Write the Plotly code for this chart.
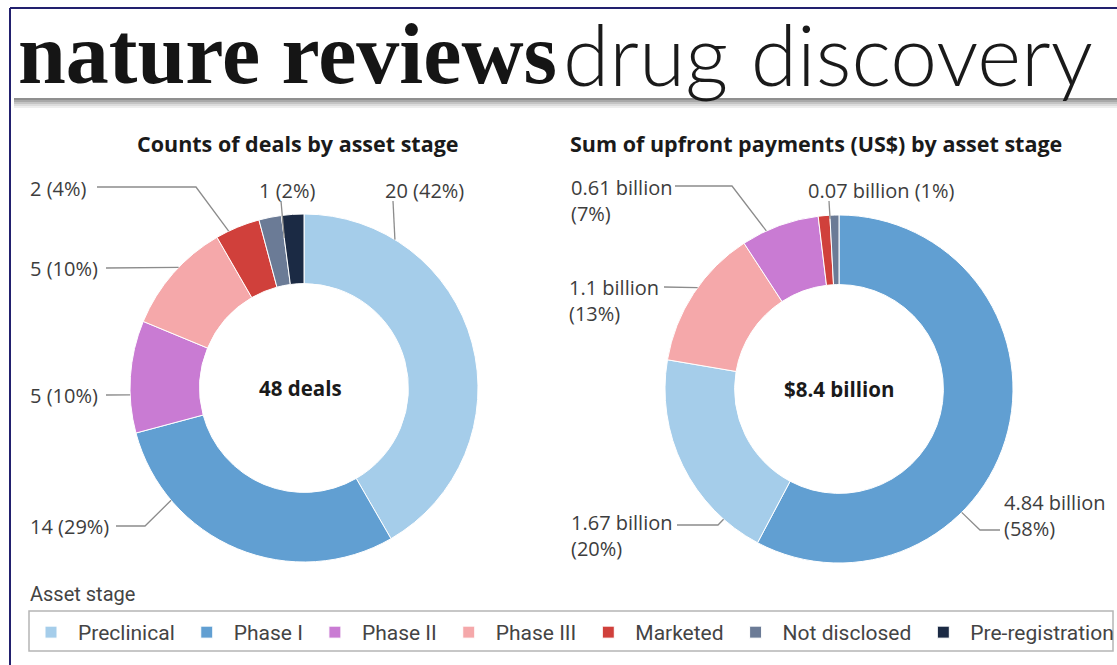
import math
import plotly.graph_objects as go

W, H = 1117, 665

# ---------------- data ----------------
stages = ["Preclinical", "Phase I", "Phase II", "Phase III", "Marketed",
          "Not disclosed", "Pre-registration"]
stage_colors = ["#a5cdea", "#619fd2", "#c97bd3", "#f5a8aa", "#d0403b",
                "#6b7b96", "#1b2a44"]

deal_stages = ["Preclinical", "Phase I", "Phase II", "Phase III", "Marketed",
               "Not disclosed", "Pre-registration"]
deal_counts = [20, 14, 5, 5, 2, 1, 1]

pay_stages = ["Phase I", "Preclinical", "Phase III", "Phase II", "Marketed",
              "Not disclosed"]
pay_values = [4.84, 1.67, 1.1, 0.61, 0.09, 0.07]   # US$ billion

color_of = dict(zip(stages, stage_colors))

# ---------------- geometry (pixels) ----------------
R = 174
LC = (304, 388)
RC = (839, 389)
HOLE = 0.6


def px(x):
    return x / W


def py(y):
    return 1 - y / H


def domain(c):
    cx, cy = c
    return dict(x=[px(cx - R), px(cx + R)], y=[py(cy + R), py(cy - R)])


def ring_point(values, idx, frac, rfrac, c):
    tot = sum(values)
    ang = 2 * math.pi * (sum(values[:idx]) + frac * values[idx]) / tot
    r = R * rfrac
    return (c[0] + r * math.sin(ang), c[1] - r * math.cos(ang))


fig = go.Figure()
line_white = dict(color="white", width=1)

fig.add_trace(go.Pie(
    labels=deal_stages, values=deal_counts, hole=HOLE, sort=False,
    direction="clockwise", rotation=0, textinfo="none",
    marker=dict(colors=[color_of[s] for s in deal_stages], line=line_white),
    domain=domain(LC), showlegend=True, hoverinfo="label+value+percent"))

fig.add_trace(go.Pie(
    labels=pay_stages, values=pay_values, hole=HOLE, sort=False,
    direction="clockwise", rotation=0, textinfo="none",
    marker=dict(colors=[color_of[s] for s in pay_stages], line=line_white),
    domain=domain(RC), showlegend=True, hoverinfo="label+value+percent"))

LABEL_FONT = dict(family="Open Sans, Roboto, sans-serif", size=20, color="#3d3d3d")
TITLE_FONT = dict(family="Open Sans, Roboto, sans-serif", size=21.5, color="#1a1a1a", weight=700)
CENTER_FONT = dict(family="Open Sans, Roboto, sans-serif", size=20.5, color="#1a1a1a", weight=700)
LEGEND_FONT = dict(family="Roboto, sans-serif", size=21, color="#444444")
LEAD = dict(color="#8c8c8c", width=1.3)

annotations = []
shapes = []

deal_total = sum(deal_counts)
pay_total = sum(pay_values)


def deal_text(i):
    return f"{deal_counts[i]} ({round(100 * deal_counts[i] / deal_total)}%)"


def pay_text(i, br=True):
    sep = "<br>" if br else " "
    return f"{pay_values[i]:g} billion{sep}({round(100 * pay_values[i] / pay_total)}%)"


# (text, text_x, text_y, leader points, slice idx, frac in slice, radius frac)
left_labels = [
    (deal_text(0), 383, 190, [(393, 201)], 0, 0.21, 1.0),
    (deal_text(5), 257, 190, [(281, 201)], 5, 1.0, 0.87),
    (deal_text(4), 28, 188, [(97, 187), (196, 187)], 4, 0.29, 1.0),
    (deal_text(3), 28, 268, [(106, 268)], 3, 0.57, 1.0),
    (deal_text(2), 28, 395, [(106, 395)], 2, 0.34, 1.0),
    (deal_text(1), 28, 526, [(116, 526), (145, 526)], 1, 0.76, 1.0),
]
right_labels = [
    (pay_text(3), 569, 200, [(675, 186), (732, 186)], 3, 0.32, 1.0),
    (pay_text(5, br=False), 806, 190, [(829, 201)], 5, 0.0, 0.98),
    (pay_text(2), 567, 300, [(664, 287)], 2, 0.55, 1.0),
    (pay_text(1), 569, 535, [(677, 525), (718, 525)], 1, 0.19, 1.0),
    (pay_text(0), 1002, 515, [(1000, 530), (980, 530)], 0, 0.65, 1.0),
]


def add_labels(specs, values, c):
    for text, tx, ty, pts, idx, frac, rf in specs:
        annotations.append(dict(
            text=text, x=px(tx), y=py(ty), xref="paper", yref="paper",
            xanchor="left", yanchor="middle", align="left", showarrow=False,
            font=LABEL_FONT))
        end = ring_point(values, idx, frac, rf, c)
        allp = pts + [end]
        path = "M " + " L ".join(f"{px(a):.5f},{py(b):.5f}" for a, b in allp)
        shapes.append(dict(type="path", path=path, xref="paper", yref="paper",
                           line=LEAD))


add_labels(left_labels, deal_counts, LC)
add_labels(right_labels, pay_values, RC)


def centered(text, x, y, font):
    return dict(text=text, x=px(x), y=py(y), xref="paper", yref="paper",
                xanchor="center", yanchor="middle", showarrow=False, font=font)


# centre texts
annotations.append(centered(f"{deal_total} deals", LC[0] - 4, LC[1], CENTER_FONT))
annotations.append(centered(f"${pay_total:.1f} billion", RC[0], RC[1], CENTER_FONT))

# chart titles
annotations.append(centered("Counts of deals by asset stage", 297, 143, TITLE_FONT))
annotations.append(centered("Sum of upfront payments (US$) by asset stage", 816, 143, TITLE_FONT))

# legend title
annotations.append(dict(text="Asset stage", x=px(28), y=py(594), xref="paper",
                        yref="paper", xanchor="left", yanchor="middle",
                        showarrow=False,
                        font=dict(family="Roboto, sans-serif", size=20, color="#444444")))

# header
annotations.append(dict(text="nature reviews", x=px(16), y=py(54), xref="paper",
                        yref="paper", xanchor="left", yanchor="middle",
                        showarrow=False,
                        font=dict(family="Liberation Serif, DejaVu Serif, serif",
                                  size=86, color="#151515", weight=700)))
annotations.append(dict(text="drug discovery", x=px(561), y=py(53.5), xref="paper",
                        yref="paper", xanchor="left", yanchor="middle",
                        showarrow=False,
                        font=dict(family="Lato, Roboto, sans-serif",
                                  size=84, color="#1a1a1a", weight=300)))

# header frame + shadow
NAVY = "#22206e"
shapes.append(dict(type="line", xref="paper", yref="paper", x0=px(10), x1=1.0,
                   y0=py(8), y1=py(8), line=dict(color=NAVY, width=2)))
shapes.append(dict(type="line", xref="paper", yref="paper", x0=px(10), x1=px(10),
                   y0=py(8), y1=0, line=dict(color=NAVY, width=2)))
for (y0, y1, col) in [(98, 100, "#8f8f8f"), (100, 102, "#a9a9a9"),
                      (102, 104, "#c4c4c4"), (104, 106, "#dcdcdc"),
                      (106, 108, "#eeeeee")]:
    shapes.append(dict(type="rect", xref="paper", yref="paper", x0=px(14), x1=1.0,
                       y0=py(y1), y1=py(y0), line=dict(width=0), fillcolor=col,
                       layer="below"))

# legend frame
shapes.append(dict(type="rect", xref="paper", yref="paper", x0=px(29), x1=px(1113),
                   y0=py(651), y1=py(611), line=dict(color="#b5b5b5", width=1.5),
                   layer="below"))

fig.update_layout(
    width=W, height=H, margin=dict(l=0, r=0, t=0, b=0, autoexpand=False),
    paper_bgcolor="white", plot_bgcolor="white",
    annotations=annotations, shapes=shapes,
    legend=dict(orientation="h", x=px(24), y=py(612), xanchor="left",
                yanchor="top", borderwidth=0, bgcolor="rgba(0,0,0,0)",
                traceorder="normal", itemwidth=44, font=LEGEND_FONT),
)

fig.write_html("out.html", config={"displayModeBar": False},
               post_script="document.body.style.margin='0';")
